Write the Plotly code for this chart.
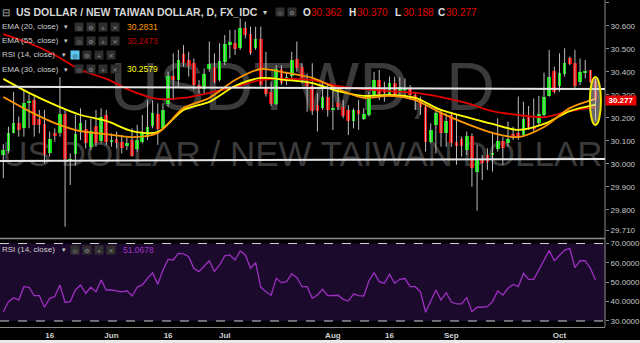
import pandas as pd
import plotly.graph_objects as go

# ---------------- data ----------------
dates = pd.bdate_range("2017-05-03", periods=116)

open_ = [30.039, 30.058, 30.136, 30.177, 30.155, 30.267, 30.278, 30.194, 30.174, 30.046,
         30.133, 30.133, 30.216, 30.017, 30.043, 30.145, 30.151, 30.075, 30.165, 30.101,
         30.213, 30.097, 30.107, 30.097, 30.078, 30.104, 30.064, 30.097, 30.119, 30.165,
         30.216, 30.155, 30.261, 30.383, 30.365, 30.478, 30.452, 30.438, 30.343, 30.325,
         30.412, 30.420, 30.365, 30.445, 30.517, 30.525, 30.503, 30.590, 30.565, 30.506,
         30.542, 30.336, 30.314, 30.261, 30.412, 30.362, 30.383, 30.455, 30.420, 30.351,
         30.339, 30.256, 30.242, 30.293, 30.239, 30.264, 30.249, 30.235, 30.188, 30.235,
         30.196, 30.213, 30.300, 30.365, 30.329, 30.304, 30.354, 30.307, 30.322, 30.329,
         30.300, 30.281, 30.246, 30.097, 30.170, 30.220, 30.136, 30.213, 30.097, 30.109,
         30.061, 30.122, 29.967, 30.020, 30.039, 30.042, 30.064, 30.101, 30.090, 30.130,
         30.133, 30.126, 30.203, 30.162, 30.180, 30.213, 30.297, 30.404, 30.339, 30.391,
         30.459, 30.438, 30.358, 30.397, 30.409, 30.362]
high = [30.087, 30.162, 30.314, 30.206, 30.325, 30.303, 30.293, 30.235, 30.235, 30.141,
        30.155, 30.377, 30.235, 30.046, 30.213, 30.242, 30.191, 30.198, 30.235, 30.242,
        30.235, 30.133, 30.141, 30.126, 30.119, 30.155, 30.170, 30.213, 30.278, 30.278,
        30.264, 30.264, 30.401, 30.481, 30.496, 30.517, 30.488, 30.459, 30.365, 30.416,
        30.532, 30.481, 30.525, 30.561, 30.583, 30.583, 30.633, 30.619, 30.597, 30.597,
        30.597, 30.488, 30.358, 30.430, 30.430, 30.401, 30.488, 30.532, 30.438, 30.394,
        30.438, 30.307, 30.358, 30.351, 30.322, 30.322, 30.278, 30.256, 30.242, 30.278,
        30.242, 30.314, 30.401, 30.409, 30.358, 30.380, 30.380, 30.377, 30.372, 30.343,
        30.314, 30.293, 30.264, 30.177, 30.249, 30.235, 30.220, 30.227, 30.213, 30.119,
        30.141, 30.133, 30.083, 30.039, 30.068, 30.136, 30.199, 30.119, 30.184, 30.162,
        30.293, 30.271, 30.252, 30.285, 30.296, 30.397, 30.496, 30.423, 30.481, 30.503,
        30.467, 30.496, 30.459, 30.452, 30.409, 30.370]
low = [29.938, 30.046, 30.133, 30.119, 30.119, 30.155, 30.119, 30.133, 30.003, 30.032,
       30.097, 30.119, 29.727, 29.909, 29.993, 30.104, 30.068, 30.061, 30.075, 30.090,
       30.083, 30.075, 30.068, 30.046, 30.061, 30.032, 30.054, 30.090, 30.104, 30.155,
       30.083, 30.148, 30.249, 30.278, 30.336, 30.423, 30.380, 30.322, 30.307, 30.307,
       30.401, 30.351, 30.358, 30.430, 30.459, 30.474, 30.496, 30.546, 30.474, 30.496,
       30.336, 30.293, 30.252, 30.256, 30.343, 30.343, 30.372, 30.401, 30.351, 30.227,
       30.213, 30.141, 30.235, 30.206, 30.148, 30.235, 30.199, 30.126, 30.155, 30.148,
       30.191, 30.206, 30.293, 30.278, 30.271, 30.293, 30.293, 30.293, 30.293, 30.278,
       30.235, 30.213, 30.054, 30.090, 30.046, 30.075, 30.075, 30.075, 29.996, 30.032,
       30.039, 29.901, 29.797, 29.930, 29.974, 29.967, 30.054, 29.996, 30.075, 30.104,
       30.104, 30.122, 30.148, 30.141, 30.170, 30.206, 30.293, 30.307, 30.314, 30.380,
       30.430, 30.329, 30.343, 30.372, 30.351, 30.188]
close = [30.061, 30.133, 30.177, 30.148, 30.264, 30.275, 30.170, 30.170, 30.039, 30.107,
         30.122, 30.216, 30.020, 30.022, 30.130, 30.177, 30.093, 30.145, 30.090, 30.206,
         30.097, 30.099, 30.090, 30.071, 30.093, 30.036, 30.104, 30.136, 30.162, 30.223,
         30.151, 30.235, 30.383, 30.365, 30.452, 30.441, 30.426, 30.343, 30.325, 30.391,
         30.433, 30.358, 30.448, 30.522, 30.529, 30.499, 30.590, 30.561, 30.481, 30.542,
         30.343, 30.304, 30.261, 30.412, 30.354, 30.380, 30.452, 30.416, 30.372, 30.339,
         30.232, 30.232, 30.293, 30.235, 30.245, 30.246, 30.209, 30.188, 30.235, 30.217,
         30.216, 30.300, 30.365, 30.304, 30.307, 30.354, 30.300, 30.333, 30.329, 30.300,
         30.278, 30.246, 30.097, 30.148, 30.220, 30.136, 30.188, 30.093, 30.080, 30.080,
         30.122, 29.981, 30.020, 30.006, 30.010, 30.045, 30.101, 30.068, 30.107, 30.125,
         30.119, 30.194, 30.159, 30.151, 30.217, 30.290, 30.377, 30.314, 30.394, 30.438,
         30.435, 30.339, 30.401, 30.403, 30.358, 30.277]

# indicator lines, every 5th bar
ema_idx = list(range(0, 116, 5))
ema20_read = [30.291, 30.230, 30.178, 30.143, 30.130, 30.117, 30.135, 30.243, 30.287, 30.365,
              30.413, 30.396, 30.374, 30.326, 30.287, 30.296, 30.278, 30.222, 30.174, 30.135,
              30.117, 30.161, 30.243, 30.283]
ema30_read = [30.370, 30.309, 30.257, 30.213, 30.187, 30.143, 30.139, 30.235, 30.270, 30.339,
              30.374, 30.365, 30.352, 30.317, 30.296, 30.300, 30.287, 30.235, 30.204, 30.174,
              30.148, 30.174, 30.230, 30.258]
ema55_read = [30.565, 30.526, 30.474, 30.409, 30.370, 30.317, 30.283, 30.287, 30.309, 30.335,
              30.365, 30.370, 30.365, 30.339, 30.326, 30.317, 30.309, 30.291, 30.265, 30.230,
              30.213, 30.204, 30.230, 30.247]

# RSI(14), one value per bar
rsi_read = [34.8, 40.0, 42.0, 40.8, 47.7, 47.4, 43.1, 43.1, 37.1, 41.7,
            42.6, 48.6, 39.6, 40.0, 46.0, 48.6, 44.3, 47.4, 45.1, 51.2,
            46.0, 46.0, 45.6, 45.0, 45.6, 42.9, 47.4, 48.6, 52.0, 54.9,
            48.9, 56.3, 61.8, 61.5, 64.9, 64.6, 63.2, 57.2, 55.5, 58.4,
            61.1, 55.5, 58.9, 63.6, 64.1, 61.5, 66.1, 64.1, 57.2, 60.1,
            47.4, 45.1, 43.3, 52.0, 49.8, 50.3, 54.3, 52.5, 47.7, 47.7,
            41.7, 43.4, 46.4, 43.1, 43.3, 43.3, 41.2, 40.3, 43.9, 43.1,
            42.9, 50.8, 54.9, 50.3, 49.5, 54.1, 49.5, 51.5, 51.9, 47.7,
            47.7, 45.1, 34.5, 40.0, 46.0, 40.8, 44.6, 39.8, 38.8, 38.8,
            42.2, 34.8, 37.1, 37.1, 37.4, 40.0, 45.5, 43.4, 46.9, 48.9,
            47.7, 54.6, 51.5, 51.5, 56.3, 61.1, 66.3, 61.1, 64.1, 66.6,
            67.5, 57.5, 61.1, 61.1, 57.2, 51.07]

legend_values = {"ema20": "30.2831", "ema55": "30.2473", "ema30": "30.2579", "rsi": "51.0678"}

# hand-drawn horizontal levels (left value, right value)
upper_level = (30.336, 30.326)
lower_level = (30.013, 30.022)

label_dates = ["2017-05-16", "2017-06-01", "2017-06-16", "2017-07-03",
               "2017-08-01", "2017-08-16", "2017-09-01", "2017-10-02"]
label_text = ["16", "Jun", "16", "Jul", "Aug", "16", "Sep", "Oct"]

price_ticks = [30.7, 30.6, 30.5, 30.4, 30.3, 30.2, 30.1, 30.0, 29.9, 29.8, 29.71]
rsi_ticks = [70, 60, 50, 40, 30]

# ---------------- geometry ----------------
W, H = 640, 343
ML, MR, MT, MB = 0, 35, 0, 16
PW, PH = W - ML - MR, H - MT - MB
SPLIT = 238.5
dom_split = (PH - SPLIT) / PH
XR = [-0.64, 116.84]
YR = [29.676, 30.713]
RR = [26.9, 72.58]

def px2y(py):  # main pane pixel -> price
    return YR[1] - py * (YR[1] - YR[0]) / SPLIT

def P(px, py):
    return px / PW, 1 - py / PH

n = len(close)
xs = list(range(n))
FONT = "Liberation Sans, Arial, sans-serif"

fig = go.Figure()

# watermark (base subplot, drawn below everything else)
xmid = (XR[0] + XR[1]) / 2
fig.add_trace(go.Scatter(x=[xmid], y=[px2y(93)], mode="text", text=["USDTWD, D"],
                         textfont=dict(size=68, color="#3a3a3a", family=FONT),
                         hoverinfo="skip", showlegend=False, xaxis="x", yaxis="y", cliponaxis=False))
fig.add_trace(go.Scatter(x=[xmid], y=[px2y(157)], mode="text", text=["US DOLLAR / NEW TAIWAN DOLLAR"],
                         textfont=dict(size=35, color="#3a3a3a", family=FONT),
                         hoverinfo="skip", showlegend=False, xaxis="x", yaxis="y", cliponaxis=False))

# wicks
wx, wy = [], []
for i in xs:
    wx += [i, i, None]
    wy += [low[i], high[i], None]
fig.add_trace(go.Scatter(x=wx, y=wy, mode="lines", line=dict(color="#bdbdbd", width=1),
                         hoverinfo="skip", showlegend=False, xaxis="x", yaxis="y3"))

# bodies
base = [min(o, c) for o, c in zip(open_, close)]
hgt = [max(abs(c - o), 0.003) for o, c in zip(open_, close)]
cols = ["#00e600" if c >= o else "#e60000" for o, c in zip(open_, close)]
fig.add_trace(go.Bar(x=xs, y=hgt, base=base, width=0.72, marker=dict(color=cols, line=dict(width=0)),
                     hoverinfo="skip", showlegend=False, xaxis="x", yaxis="y3"))

# EMAs
for vals, col in [(ema55_read, "#e00000"), (ema30_read, "#ffff00"), (ema20_read, "#ff9800")]:
    fig.add_trace(go.Scatter(x=ema_idx, y=vals, mode="lines",
                             line=dict(color=col, width=1.8, shape="spline", smoothing=0.8),
                             showlegend=False, xaxis="x", yaxis="y3"))

# RSI
fig.add_trace(go.Scatter(x=xs, y=rsi_read, mode="lines", line=dict(color="#9c2fbf", width=1.3),
                         showlegend=False, xaxis="x", yaxis="y2"))

tickvals_x = [dates.get_loc(pd.Timestamp(d)) for d in label_dates]

shapes = [
    dict(type="rect", xref="paper", yref="y2", x0=0, x1=1, y0=30, y1=70,
         fillcolor="#1c0a2d", line=dict(width=0), layer="below"),
    dict(type="line", xref="paper", yref="y2", x0=0, x1=1, y0=70, y1=70,
         line=dict(color="#cfcfcf", width=1, dash="dash")),
    dict(type="line", xref="paper", yref="y2", x0=0, x1=1, y0=30, y1=30,
         line=dict(color="#cfcfcf", width=1, dash="dash")),
    dict(type="line", xref="paper", yref="paper", x0=0, x1=1, y0=dom_split, y1=dom_split,
         line=dict(color="#8a8a8a", width=1.5)),
    dict(type="line", xref="paper", yref="paper", x0=1, x1=1, y0=0, y1=1,
         line=dict(color="#8a8a8a", width=1)),
    dict(type="line", xref="paper", yref="y3", x0=0, x1=1, y0=upper_level[0], y1=upper_level[1],
         line=dict(color="#e6e6e6", width=2)),
    dict(type="line", xref="paper", yref="y3", x0=0, x1=1, y0=lower_level[0], y1=lower_level[1],
         line=dict(color="#e6e6e6", width=2)),
    dict(type="circle", xref="x", yref="y3", x0=n - 2.1, x1=n + 0.05, y0=px2y(125), y1=px2y(77),
         line=dict(color="#f2e600", width=2), fillcolor="rgba(205,205,205,0.5)", layer="above"),
    dict(type="rect", xref="paper", yref="paper", x0=0, x1=W / PW, y0=-(340 - PH) / PH, y1=-(H - PH) / PH,
         fillcolor="#e9e9e9", line=dict(width=0)),
]

ann = []
def T(px, py, text, size=8, color="#cccccc", bold=False, **kw):
    x, y = P(px, py)
    ann.append(dict(xref="paper", yref="paper", x=x, y=y, text=(f"<b>{text}</b>" if bold else text),
                    showarrow=False, xanchor="left", yanchor="middle",
                    font=dict(size=size, color=color, family=FONT), borderpad=0, **kw))

def icons(px0, py, glyphs, first_cyan=False):
    for j, g in enumerate(glyphs):
        x, y = P(px0 + j * 12, py)
        cyan = first_cyan and j == 0
        ann.append(dict(xref="paper", yref="paper", x=x, y=y, text=g, showarrow=False,
                        xanchor="left", yanchor="middle", width=8, height=8, borderpad=0,
                        bgcolor="#5bc8ef" if cyan else "#2e2e2e",
                        font=dict(size=6, color="#1a1a1a" if cyan else "#8a8a8a", family="DejaVu Sans")))

# title row
T(1, 12.5, "⊟", size=10, color="#bbbbbb")
T(15, 12.5, "US DOLLAR / NEW TAIWAN DOLLAR, D, FX_IDC", size=10.5, color="#d6d6d6", bold=True)
T(262, 12.5, "▾", size=8, color="#cccccc")
icons(275, 12.5, ["◎", "⚙"])
ohlc = [("O", open_[-1], 302), ("H", high[-1], 347.5), ("L", low[-1], 393.5), ("C", close[-1], 436.5)]
for lab, val, xp in ohlc:
    T(xp, 12.5, lab, size=10, color="#e0e0e0", bold=True)
    T(xp + 8, 12.5, f"{val:.3f}", size=10, color="#e00000")

rows = [(26.7, "EMA (20, close)", legend_values["ema20"], "#ff9800", False),
        (41.0, "EMA (55, close)", legend_values["ema55"], "#c80000", False),
        (54.7, "RSI (14, close)", None, None, True),
        (69.0, "EMA (30, close)", legend_values["ema30"], "#ffff00", False)]
for py, lab, val, col, is_rsi in rows:
    T(1, py, lab, size=8, color="#cccccc")
    T(61 if is_rsi else 63, py, "▾", size=7, color="#cccccc")
    icons(70 if is_rsi else 74, py, ["◎", "⚙", "+", "✕"], first_cyan=is_rsi)
    if val:
        T(126, py, val, size=8.5, color=col)

T(1, 249.5, "RSI (14, close)", size=8, color="#cccccc")
T(61, 249.5, "▾", size=7, color="#cccccc")
icons(70, 249.5, ["◎", "⚙", "+", "✕"])
T(122, 249.5, legend_values["rsi"], size=8.5, color="#a030c8")

# last price tag on the price scale
ann.append(dict(xref="paper", yref="y3", x=1.0, y=close[-1], text=f"<b>{close[-1]:.3f}</b>",
                showarrow=False, xanchor="left", yanchor="middle", bgcolor="#e60000",
                width=30, height=9, borderpad=0, font=dict(size=8, color="#ffffff", family=FONT)))

axis_font = dict(size=8, color="#c8c8c8", family=FONT)
fig.update_layout(
    width=W, height=H, margin=dict(l=ML, r=MR, t=MT, b=MB),
    paper_bgcolor="#000000", plot_bgcolor="#000000",
    showlegend=False, bargap=0,
    xaxis=dict(domain=[0, 1], range=XR, anchor="y2", showgrid=False, zeroline=False,
               tickvals=tickvals_x, ticktext=label_text, ticks="",
               tickfont=dict(size=8, color="#d0d0d0", family=FONT, weight="bold"),
               showline=True, linecolor="#8a8a8a", linewidth=1, fixedrange=True),
    yaxis=dict(domain=[dom_split, 1], range=YR, visible=False, anchor="x", fixedrange=True),
    yaxis3=dict(overlaying="y", range=YR, side="right", anchor="x", showgrid=False, zeroline=False,
                tickvals=price_ticks, ticktext=[f"{v:.3f}" for v in price_ticks],
                ticks="outside", ticklen=3, tickcolor="#8a8a8a", tickfont=axis_font, fixedrange=True),
    yaxis2=dict(domain=[0, dom_split], range=RR, side="right", anchor="x", showgrid=False,
                zeroline=False, tickvals=rsi_ticks, ticktext=[f"{v:.4f}" for v in rsi_ticks],
                ticks="outside", ticklen=3, tickcolor="#8a8a8a", tickfont=axis_font, fixedrange=True),
    shapes=shapes, annotations=ann,
)

fig.write_html("out.html")
